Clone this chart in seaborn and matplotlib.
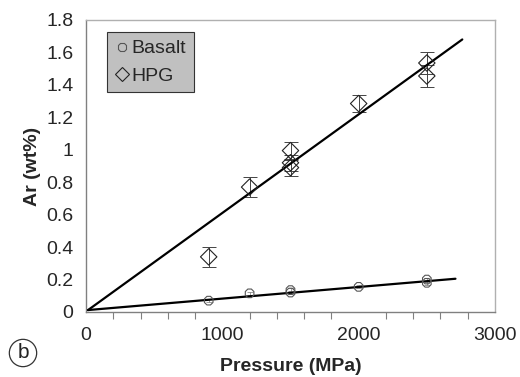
import numpy as np
import pandas as pd
import matplotlib
matplotlib.use("Agg")
import matplotlib.pyplot as plt
from matplotlib.ticker import MultipleLocator, FuncFormatter
from matplotlib.lines import Line2D
import seaborn as sns

# Argon solubility measurements
hpg_pressure = [900, 1200, 1500, 1500, 1500, 2000, 2500, 2500]
hpg_ar = [0.34, 0.77, 0.995, 0.92, 0.89, 1.285, 1.535, 1.455]
hpg_err = [0.06, 0.06, 0.05, 0.05, 0.05, 0.055, 0.065, 0.065]

basalt_pressure = [900, 1200, 1500, 1500, 2000, 2500, 2500]
basalt_ar = [0.07, 0.115, 0.135, 0.12, 0.155, 0.20, 0.18]
basalt_err = [0.008, 0.01, 0.01, 0.01, 0.01, 0.012, 0.012]

# Linear trends (end points)
hpg_fit_p = [15, 2760]
hpg_fit_ar = [0.012, 1.68]
basalt_fit_p = [15, 2710]
basalt_fit_ar = [0.012, 0.205]

x_ticks = [0, 1000, 2000, 3000]
y_ticks = [0, 0.2, 0.4, 0.6, 0.8, 1.0, 1.2, 1.4, 1.6, 1.8]

sns.set_theme(style="white")
plt.rcParams["font.family"] = ["Liberation Sans", "DejaVu Sans"]

fig = plt.figure(figsize=(5.2, 3.77), dpi=100)
ax = fig.add_axes([86 / 520, 1 - 312 / 377, 409 / 520, 292 / 377])

df_hpg = pd.DataFrame({"P": hpg_pressure, "Ar": hpg_ar, "err": hpg_err})
df_bas = pd.DataFrame({"P": basalt_pressure, "Ar": basalt_ar, "err": basalt_err})
df_hfit = pd.DataFrame({"P": hpg_fit_p, "Ar": hpg_fit_ar})
df_bfit = pd.DataFrame({"P": basalt_fit_p, "Ar": basalt_fit_ar})

sns.lineplot(data=df_hfit, x="P", y="Ar", ax=ax, color="black", lw=1.6, zorder=3)
sns.lineplot(data=df_bfit, x="P", y="Ar", ax=ax, color="black", lw=1.6, zorder=3)

ax.errorbar(df_hpg["P"], df_hpg["Ar"], yerr=df_hpg["err"], fmt="none",
            ecolor="#444444", elinewidth=0.7, capsize=5, capthick=0.7, zorder=2)
ax.errorbar(df_bas["P"], df_bas["Ar"], yerr=df_bas["err"], fmt="none",
            ecolor="#777777", elinewidth=0.5, capsize=2.5, capthick=0.5, zorder=2)

sns.scatterplot(data=df_hpg, x="P", y="Ar", ax=ax, marker="D", s=70,
                facecolor="none", edgecolor="#222222", linewidth=0.8, zorder=4)
sns.scatterplot(data=df_bas, x="P", y="Ar", ax=ax, marker="8", s=45,
                facecolor="none", edgecolor="#555555", linewidth=0.8, zorder=4)

ax.set_xlim(0, 3000)
ax.set_ylim(0, 1.8)
ax.xaxis.set_minor_locator(MultipleLocator(200))
ax.set_xticks(x_ticks)
ax.set_yticks(y_ticks)
ax.yaxis.set_major_formatter(FuncFormatter(lambda v, p: f"{v:g}"))

ax.tick_params(axis="both", which="major", direction="out", length=5, width=0.8,
               color="#808080", labelsize=14)
ax.tick_params(axis="x", which="minor", direction="out", length=5, width=0.8,
               color="#808080", bottom=True)
ax.tick_params(axis="x", which="major", pad=6)
ax.tick_params(axis="y", which="major", pad=4)

for side in ["left", "bottom"]:
    ax.spines[side].set_color("#808080")
    ax.spines[side].set_linewidth(1.0)
for side in ["top", "right"]:
    ax.spines[side].set_color("#b0b0b0")
    ax.spines[side].set_linewidth(1.0)

ax.set_xlabel("Pressure (MPa)", fontsize=14, fontweight="bold", labelpad=10)
ax.set_ylabel("Ar (wt%)", fontsize=14, fontweight="bold", labelpad=4)

handles = [
    Line2D([], [], marker="8", ls="none", markersize=6, markerfacecolor="none",
           markeredgecolor="#555555", markeredgewidth=0.8, label="Basalt"),
    Line2D([], [], marker="D", ls="none", markersize=7, markerfacecolor="none",
           markeredgecolor="#222222", markeredgewidth=0.8, label="HPG"),
]
leg = ax.legend(handles=handles, loc="upper left", bbox_to_anchor=(0.051, 0.959),
                borderaxespad=0, fontsize=14, frameon=True, fancybox=False,
                handletextpad=0.05, handlelength=0.8, borderpad=0.4,
                labelspacing=0.5)
leg.get_frame().set_facecolor("#c0c0c0")
leg.get_frame().set_edgecolor("#333333")
leg.get_frame().set_linewidth(0.8)
leg.get_frame().set_alpha(1)

# panel tag
fig.text(23 / 520, 1 - 353 / 377, "b", ha="center", va="center", fontsize=15,
         color="#222222",
         bbox=dict(boxstyle="circle,pad=0.2", facecolor="none",
                   edgecolor="#333333", linewidth=0.9))

fig.savefig("out.png", dpi=100)
